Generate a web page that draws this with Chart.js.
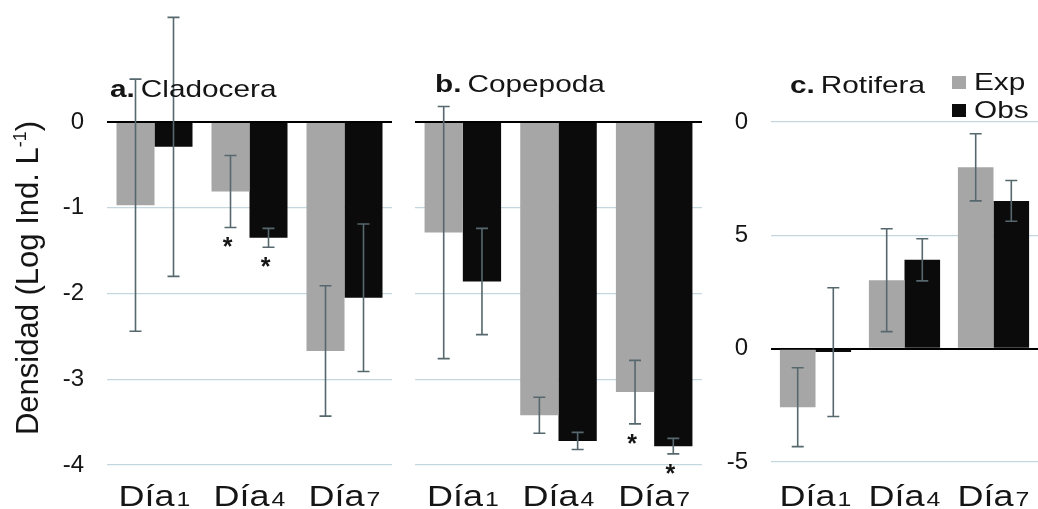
<!DOCTYPE html>
<html>
<head>
<meta charset="utf-8">
<script src="https://cdn.jsdelivr.net/npm/chart.js@4"></script>
<style>
  body { margin: 0; background: #fff; width: 1038px; height: 509px; overflow: hidden; position: relative; }
  .panel { position: absolute; top: 0; height: 509px; }
</style>
</head>
<body>
<div class="panel" style="left:0;width:400px"><canvas id="chartA"></canvas></div>
<div class="panel" style="left:400px;width:310px"><canvas id="chartB"></canvas></div>
<div class="panel" style="left:710px;width:328px"><canvas id="chartC"></canvas></div>
<script>
// Data (Log Ind. L-1)
const days = ['Día1', 'Día4', 'Día7'];

const cladoExp = [-0.97, -0.81, -2.67];
const cladoExpErr = [1.47, 0.42, 0.76];
const cladoObs = [-0.29, -1.35, -2.05];
const cladoObsErr = [1.51, 0.11, 0.86];
const cladoSig = [[false, true, false], [false, true, false]];

const copeExp = [-1.29, -3.42, -3.15];
const copeExpErr = [1.47, 0.21, 0.37];
const copeObs = [-1.86, -3.72, -3.78];
const copeObsErr = [0.62, 0.10, 0.09];
const copeSig = [[false, false, true], [false, false, true]];

const rotiExp = [-2.58, 3.02, 8.0];
const rotiExpErr = [1.74, 2.27, 1.48];
const rotiObs = [-0.15, 3.92, 6.52];
const rotiObsErr = [2.84, 0.93, 0.90];

const rotiTicks = [-5, 0, 5, 10];
const rotiTickLabels = ['-5', '0', '5', '0'];

const FONT = '"Liberation Sans", Arial, sans-serif';
const SX = 1.24;          // text in the figure is stretched horizontally
const GREY = '#a6a6a6';
const BLACK = '#0b0b0b';
const GRID = '#c4d6de';
const ERR = '#56686e';
const TEXT = '#151515';

function fontStr(size, bold) {
    return (bold ? 'bold ' : '') + size + 'px ' + FONT;
}

function drawText(ctx, text, x, y, size, bold, sx = SX) {
    ctx.save();
    ctx.font = fontStr(size, bold);
    ctx.fillStyle = TEXT;
    ctx.textBaseline = 'alphabetic';
    ctx.textAlign = 'left';
    ctx.translate(x, y);
    ctx.scale(sx, 1);
    ctx.fillText(text, 0, 0);
    const w = ctx.measureText(text).width * sx;
    ctx.restore();
    return w;
}

function textWidth(ctx, text, size, bold, sx = SX) {
    ctx.save();
    ctx.font = fontStr(size, bold);
    const w = ctx.measureText(text).width * sx;
    ctx.restore();
    return w;
}

function panelPlugin(p) {
    return {
        id: 'panel' + p.key,
        afterDatasetsDraw(chart) {
            const ctx = chart.ctx;
            const y = chart.scales.y;
            p.errors.forEach((errs, i) => {
                const meta = chart.getDatasetMeta(i);
                meta.data.forEach((bar, j) => {
                    const v = chart.data.datasets[i].data[j];
                    const top = y.getPixelForValue(v + errs[j]);
                    const bot = y.getPixelForValue(v - errs[j]);
                    ctx.save();
                    ctx.strokeStyle = ERR;
                    ctx.lineWidth = 1.6;
                    ctx.beginPath();
                    ctx.moveTo(bar.x, top); ctx.lineTo(bar.x, bot);
                    ctx.moveTo(bar.x - 6, top); ctx.lineTo(bar.x + 6, top);
                    ctx.moveTo(bar.x - 6, bot); ctx.lineTo(bar.x + 6, bot);
                    ctx.stroke();
                    ctx.restore();
                    if (p.sig && p.sig[i][j]) {
                        ctx.save();
                        ctx.font = fontStr(25, true);
                        ctx.fillStyle = TEXT;
                        ctx.textAlign = 'center';
                        ctx.textBaseline = 'alphabetic';
                        ctx.fillText('*', bar.x - 3, bot + 28);
                        ctx.restore();
                    }
                });
            });
        },
        afterDraw(chart) {
            const ctx = chart.ctx;
            const x = chart.scales.x;

            // title
            const t = p.title;
            const bw = drawText(ctx, t.bold, t.x, t.y, 24, true);
            drawText(ctx, t.text, t.x + bw + 6, t.y, 24, false);

            // category labels: "Día" large, day number small
            days.forEach((label, i) => {
                const cx = x.getPixelForValue(i);
                const word = label.slice(0, 3);
                const num = label.slice(3);
                const w1 = textWidth(ctx, word, 29, false);
                const w2 = textWidth(ctx, num, 20, false);
                const start = cx - (w1 + 2 + w2) / 2;
                drawText(ctx, word, start, 506, 29, false);
                drawText(ctx, num, start + w1 + 2, 506, 20, false);
            });

            if (p.legend) {
                p.legend.forEach(item => {
                    ctx.fillStyle = item.color;
                    ctx.fillRect(item.x, item.y - 14, 14, 13);
                    drawText(ctx, item.label, item.x + 22, item.y, 24, false);
                });
            }

            if (p.yTitle) {
                const parts = [
                    { s: 'Densidad (Log Ind. L', size: 31, dy: 0 },
                    { s: '-1', size: 18, dy: -12 },
                    { s: ')', size: 31, dy: 0 }
                ];
                ctx.save();
                let total = 0;
                parts.forEach(pt => { ctx.font = fontStr(pt.size); pt.w = ctx.measureText(pt.s).width; total += pt.w; });
                ctx.translate(p.yTitle.x, p.yTitle.y);
                ctx.rotate(-Math.PI / 2);
                ctx.fillStyle = TEXT;
                ctx.textBaseline = 'alphabetic';
                ctx.textAlign = 'left';
                let pos = -total / 2;
                parts.forEach(pt => {
                    ctx.font = fontStr(pt.size);
                    ctx.fillText(pt.s, pos, 11 + pt.dy);
                    pos += pt.w;
                });
                ctx.restore();
            }
        }
    };
}

function gridColor(c) {
    return c.tick.value === 0 ? '#000' : GRID;
}
function gridWidth(c) {
    return c.tick.value === 0 ? 2 : 1.3;
}

function makeChart(id, exp, obs, yOpts, padding, plugin) {
    return new Chart(document.getElementById(id), {
        type: 'bar',
        data: {
            labels: days,
            datasets: [
                { label: 'Exp', data: exp, backgroundColor: GREY, borderWidth: 0, categoryPercentage: 0.8, barPercentage: 1.0 },
                { label: 'Obs', data: obs, backgroundColor: BLACK, borderWidth: 0, categoryPercentage: 0.8, barPercentage: 1.0 }
            ]
        },
        options: {
            responsive: true,
            maintainAspectRatio: false,
            animation: false,
            layout: { padding: padding },
            plugins: { legend: { display: false }, tooltip: { enabled: false } },
            scales: {
                x: { display: false },
                y: yOpts
            }
        },
        plugins: [plugin]
    });
}

makeChart('chartA', cladoExp, cladoObs, {
    min: -4, max: 0,
    ticks: { stepSize: 1, padding: 23, color: TEXT, font: { family: FONT, size: 24 } },
    grid: { color: gridColor, lineWidth: gridWidth, drawTicks: false },
    border: { display: false },
    afterFit: s => { s.width = 107; }
}, { left: 0, right: 8, top: 122, bottom: 44 }, panelPlugin({
    key: 'A',
    errors: [cladoExpErr, cladoObsErr],
    sig: cladoSig,
    title: { bold: 'a.', text: 'Cladocera', x: 110, y: 97 },
    yTitle: { x: 27, y: 278 }
}));

makeChart('chartB', copeExp, copeObs, {
    min: -4, max: 0,
    ticks: { stepSize: 1, display: false },
    grid: { color: gridColor, lineWidth: gridWidth, drawTicks: false },
    border: { display: false },
    afterFit: s => { s.width = 15; }
}, { left: 0, right: 8, top: 122, bottom: 44 }, panelPlugin({
    key: 'B',
    errors: [copeExpErr, copeObsErr],
    sig: copeSig,
    title: { bold: 'b.', text: 'Copepoda', x: 35, y: 92 }
}));

makeChart('chartC', rotiExp, rotiObs, {
    min: -5, max: 10,
    ticks: {
        stepSize: 5, padding: 23, color: TEXT, font: { family: FONT, size: 24 },
        callback: v => rotiTickLabels[rotiTicks.indexOf(v)]
    },
    grid: { color: gridColor, lineWidth: gridWidth, drawTicks: false },
    border: { display: false },
    afterFit: s => { s.width = 61; }
}, { left: 0, right: 0, top: 122, bottom: 47 }, panelPlugin({
    key: 'C',
    errors: [rotiExpErr, rotiObsErr],
    title: { bold: 'c.', text: 'Rotifera', x: 80, y: 93 },
    legend: [
        { label: 'Exp', color: GREY, x: 242, y: 90 },
        { label: 'Obs', color: BLACK, x: 242, y: 118 }
    ]
}));
</script>
</body>
</html>
